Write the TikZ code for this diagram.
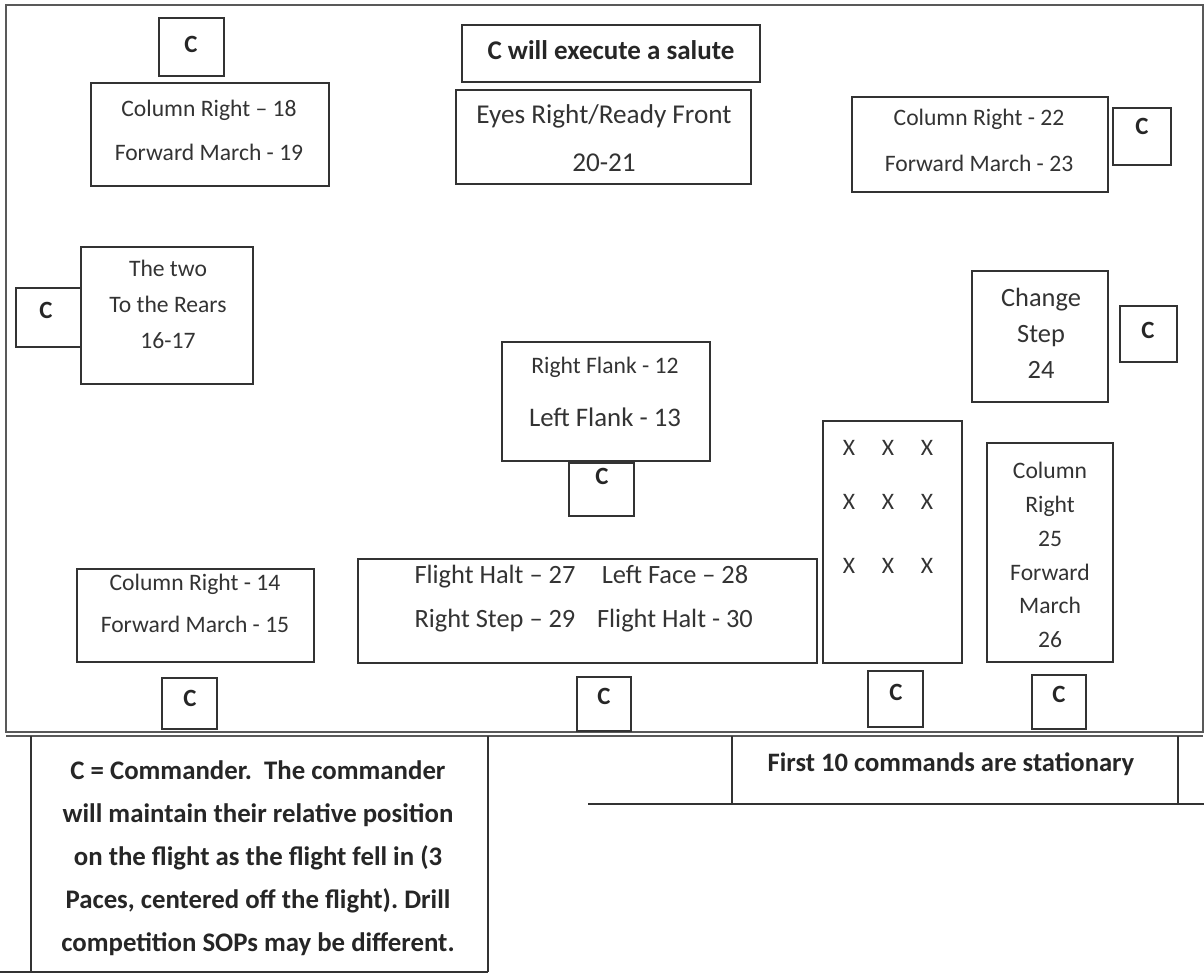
\documentclass[tikz,border=0pt]{standalone}
\usepackage{fontspec}
\setmainfont{Carlito}
\frenchspacing

\tikzset{
  frame/.style={draw=black!65, line width=1pt},
  box/.style={draw=black!80, line width=0.9pt},
  txt/.style={font=\fontsize{11.8}{#1}\selectfont, text=black!80, align=center, inner sep=0pt},
  txt/.default=22,
  bigtxt/.style={font=\fontsize{13.2}{#1}\selectfont, text=black!80, align=center, inner sep=0pt},
  bigtxt/.default=22,
  cmark/.style={font=\bfseries\fontsize{12.4}{14}\selectfont, text=black!85, inner sep=0pt},
  note/.style={font=\bfseries\fontsize{#1}{21.5}\selectfont, text=black!85, align=center, inner sep=0pt},
  note/.default=12.4
}

\begin{document}
\begin{tikzpicture}[x=0.5pt,y=-0.5pt]

\useasboundingbox (0,0) rectangle (1204,973);

% Draw the outline of the drill pad
\draw[frame] (6,5) rectangle (1203,732);
\draw[frame] (6,736) -- (1203,736);

% Draw the command boxes
\draw[box] (91,83) rectangle (329,186);
\draw[box] (462,25) rectangle (760,82);
\draw[box] (456,90) rectangle (751,184);
\draw[box] (852,97) rectangle (1108,192);
\draw[box] (81,247) rectangle (253,384);
\draw[box] (972,271) rectangle (1108,402);
\draw[box] (502,342) rectangle (710,461);
\draw[box] (823,421) rectangle (962,663);
\draw[box] (987,443) rectangle (1113,662);
\draw[box] (77,569) rectangle (314,662);
\draw[box] (358,559) rectangle (817,663);

% Draw the commander boxes
\draw[box] (159,18) rectangle (224,76);
\draw[box] (1113,108) rectangle (1171,165);
\draw[box] (16,288) rectangle (81,347);
\draw[box] (1120,306) rectangle (1177,362);
\draw[box] (569,463) rectangle (634,516);
\draw[box] (162,678) rectangle (217,729);
\draw[box] (577,677) rectangle (631,731);
\draw[box] (868,671) rectangle (923,727);
\draw[box] (1032,675) rectangle (1086,729);

% Label the commander positions
\node[cmark] (c1) at (191,44) {C};
\node[cmark] (c2) at (1142,126) {C};
\node[cmark] (c3) at (46,310) {C};
\node[cmark] (c4) at (1148,330) {C};
\node[cmark] (c5) at (602,476) {C};
\node[cmark] (c6) at (190,698) {C};
\node[cmark] (c7) at (604,696) {C};
\node[cmark] (c8) at (896,692) {C};
\node[cmark] (c9) at (1059,694) {C};

% Label the commands
\node[txt=22] (cr18) at (209,130) {Column Right -- 18\\Forward March - 19};
\node[note=13.5] (salute) at (611,50) {C will execute a salute};
\node[font=\fontsize{13.6}{24}\selectfont, text=black!80, align=center, inner sep=0pt] (eyes) at (604,138) {Eyes Right/Ready Front\\20-21};
\node[txt=23] (cr22) at (979,140) {Column Right - 22\\Forward March - 23};
\node[txt=18] (rears) at (168,304) {The two\\To the Rears\\16-17};
\node[bigtxt=18] (chg) at (1041,333) {Change\\Step\\24};
\node[txt] (rflank) at (605,367) {Right Flank - 12};
\node[font=\fontsize{13.4}{16}\selectfont, text=black!80, inner sep=0pt] (lflank) at (605,417) {Left Flank - 13};
\node[txt=16.9] (cr25) at (1050,555) {Column\\Right\\25\\Forward\\March\\26};
\node[txt=21] (cr14) at (195,603) {Column Right - 14\\Forward March - 15};
\node[bigtxt=22] (halt1) at (495,599) {Flight Halt -- 27\\Right Step -- 29};
\node[bigtxt=22] (halt2) at (675,599) {Left Face -- 28\\Flight Halt - 30};

% Mark the flight members
\foreach \r [count=\i] in {448,502,566}
  \foreach \c [count=\j] in {849,888,927}
    \node[txt] (x\i\j) at (\c,\r) {X};

% Draw the notes below the pad
\draw[box] (0,972) -- (488,972);
\draw[box] (31,736) -- (31,972);
\draw[box] (488,736) -- (488,972);
\draw[box] (588,804) -- (1204,804);
\draw[box] (732,736) -- (732,804);
\draw[box] (1178,736) -- (1178,804);

\node[note=13.4] (key) at (258,858) {C = Commander.\ \ The commander\\will maintain their relative position\\on the flight as the flight fell in (3\\Paces, centered off the flight). Drill\\competition SOPs may be different.};
\node[note=13.3] (first) at (951,764) {First 10 commands are stationary};

\end{tikzpicture}
\end{document}
